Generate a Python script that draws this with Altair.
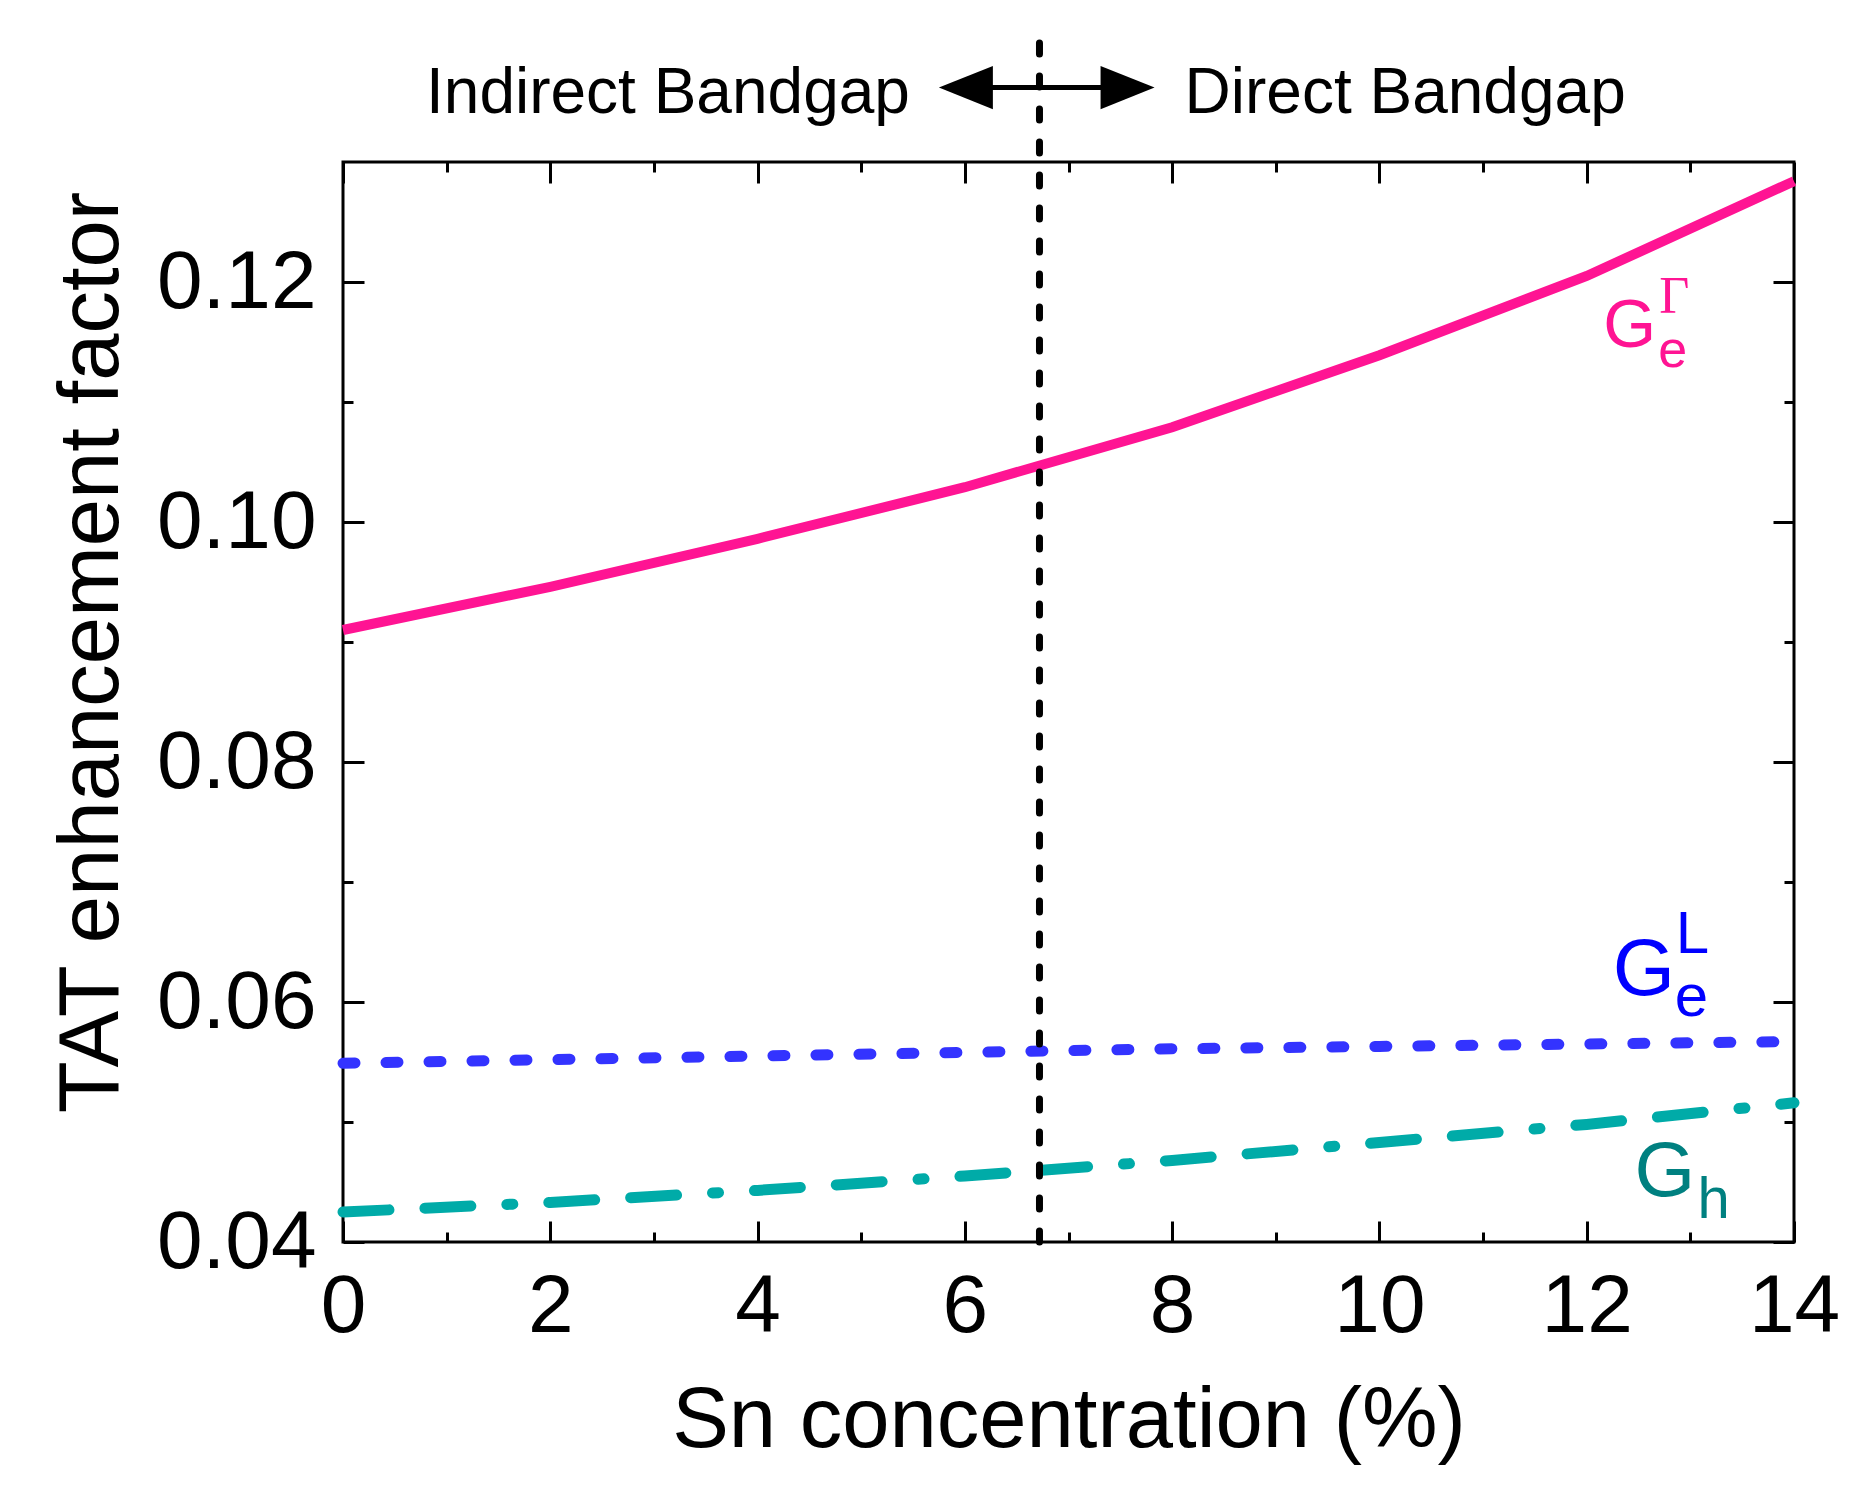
import altair as alt
import pandas as pd

# ---- data ----
sn = [0, 2, 4, 6, 8, 10, 12, 14]
g_e_gamma = [0.0910, 0.0946, 0.0986, 0.1029, 0.1079, 0.1139, 0.1205, 0.1284]
g_e_L = [0.0549, 0.0552, 0.0555, 0.0558, 0.0561, 0.0563, 0.0565, 0.0567]
g_h = [0.0425, 0.0433, 0.0443, 0.0455, 0.0468, 0.0483, 0.0498, 0.0516]

x_major = [0, 2, 4, 6, 8, 10, 12, 14]
x_minor = [1, 3, 5, 7, 9, 11, 13]
y_major = [0.04, 0.06, 0.08, 0.10, 0.12]
y_minor = [0.05, 0.07, 0.09, 0.11]

transition_x = [6.72, 6.72]
transition_y = [0.04, 0.1404]

arrow_x = [6.01, 7.57]
arrow_y = [0.1362, 0.1362]

W, H = 1451, 1080
FONT = "Liberation Sans"

xs = alt.Scale(domain=[0, 14], nice=False, zero=False)
ys = alt.Scale(domain=[0.04, 0.13], nice=False, zero=False)


def X(field="x", axis=None):
    return alt.X(field, type="quantitative", scale=xs, axis=axis)


def Y(field="y", axis=None):
    return alt.Y(field, type="quantitative", scale=ys, axis=axis)


def series_df(vals):
    return pd.DataFrame({"x": sn, "y": vals})


# labelled axes (no ticks)
x_axis = alt.Axis(values=x_major, ticks=False, tickSize=0, domain=False, grid=False,
                  labelFont=FONT, labelFontSize=82, labelColor="black", labelPadding=24,
                  labelBaseline="top", labelFlush=False, labelOverlap=False,
                  title="Sn concentration (%)", titleFont=FONT, titleFontSize=85,
                  titleFontWeight="normal", titleColor="black",
                  titleX=W / 2, titleY=204, titleBaseline="alphabetic", titleAlign="center")
y_axis = alt.Axis(values=y_major, format=".2f", ticks=False, tickSize=0, domain=False, grid=False,
                  labelFont=FONT, labelFontSize=82, labelColor="black", labelPadding=27,
                  labelFlush=False, labelOverlap=False,
                  title="TAT enhancement factor", titleFont=FONT, titleFontSize=85,
                  titleFontWeight="normal", titleColor="black",
                  titleX=-226, titleY=490, titleBaseline="alphabetic", titleAlign="center",
                  titleAngle=270)

pink = alt.Chart(series_df(g_e_gamma)).mark_line(
    color="#FF1493", strokeWidth=10, strokeCap="butt", clip=False
).encode(x=X(axis=x_axis), y=Y(axis=y_axis))


def tick_layer(xorient, yorient, xvals, yvals, size):
    xa = alt.Axis(orient=xorient, offset=-H, values=xvals, ticks=True, tickSize=size,
                  tickWidth=3, tickColor="black", labels=False, domain=False, grid=False,
                  title=None)
    ya = alt.Axis(orient=yorient, offset=-W, values=yvals, ticks=True, tickSize=size,
                  tickWidth=3, tickColor="black", labels=False, domain=False, grid=False,
                  title=None)
    return alt.Chart(series_df(g_e_gamma)).mark_point(opacity=0).encode(
        x=X(axis=xa), y=Y(axis=ya))


ticks = [
    tick_layer("top", "right", x_major, y_major, 21),
    tick_layer("top", "right", x_minor, y_minor, 10),
    tick_layer("bottom", "left", x_major, y_major, 21),
    tick_layer("bottom", "left", x_minor, y_minor, 10),
]

blue = alt.Chart(series_df(g_e_L)).mark_line(
    color="#3333FF", strokeWidth=11, strokeCap="round", strokeDash=[12, 31]
).encode(x=X(), y=Y())

teal = alt.Chart(series_df(g_h)).mark_line(
    color="#00ABA8", strokeWidth=11, strokeCap="round", strokeDash=[46, 36, 46, 36, 6, 36]
).encode(x=X(), y=Y())

vline = alt.Chart(pd.DataFrame({"x": [transition_x[0]], "y": [transition_y[0]],
                                "y2": [transition_y[1]]})).mark_rule(
    color="black", strokeWidth=7, strokeCap="round", strokeDash=[11, 22], clip=False
).encode(x=X(), y=Y(), y2="y2:Q")

shaft = alt.Chart(pd.DataFrame({"x": [arrow_x[0]], "x2": [arrow_x[1]], "y": [arrow_y[0]]})).mark_rule(
    color="black", strokeWidth=5, clip=False
).encode(x=X(), x2="x2:Q", y=Y())

head_l = alt.Chart(pd.DataFrame({"x": [arrow_x[0]], "y": [arrow_y[0]]})).mark_point(
    shape="M -1 0 L 1 -0.8 L 1 0.8 Z", filled=True, size=2916, color="black",
    opacity=1, strokeWidth=0, clip=False
).encode(x=X(), y=Y())
head_r = alt.Chart(pd.DataFrame({"x": [arrow_x[1]], "y": [arrow_y[1]]})).mark_point(
    shape="M 1 0 L -1 -0.8 L -1 0.8 Z", filled=True, size=2916, color="black",
    opacity=1, strokeWidth=0, clip=False
).encode(x=X(), y=Y())


def text_layer(txt, x, y, size, color, align="left", font=FONT):
    return alt.Chart(pd.DataFrame({"x": [x], "y": [y], "t": [txt]})).mark_text(
        align=align, baseline="alphabetic", font=font, fontSize=size, color=color, clip=False
    ).encode(x=X(), y=Y(), text="t:N")


texts = [
    text_layer("Indirect Bandgap", 5.47, 0.1341, 64, "black", align="right"),
    text_layer("Direct Bandgap", 8.12, 0.1341, 64, "black"),
    # G_e^Gamma
    text_layer("G", 12.16, 0.1146, 68, "#FF1493"),
    text_layer("e", 12.69, 0.1129, 52, "#FF1493"),
    text_layer("Γ", 12.70, 0.1174, 52, "#FF1493", font="Liberation Serif"),
    # G_e^L
    text_layer("G", 12.25, 0.0606, 80, "#0000FF"),
    text_layer("e", 12.85, 0.0588, 60, "#0000FF"),
    text_layer("L", 12.86, 0.0641, 60, "#0000FF"),
    # G_h
    text_layer("G", 12.46, 0.0438, 78, "#008080"),
    text_layer("h", 13.07, 0.0420, 58, "#008080"),
]

chart = alt.layer(
    *ticks, teal, blue, pink, vline, shaft, head_l, head_r, *texts
).resolve_axis(x="independent", y="independent").properties(
    width=W, height=H,
    autosize=alt.AutoSizeParams(type="none"),
    padding={"left": 335, "top": 154, "right": 50, "bottom": 230},
    background="white",
).configure_view(stroke="black", strokeWidth=3)

chart.save("out.html", embed_options={"renderer": "svg", "actions": False})
